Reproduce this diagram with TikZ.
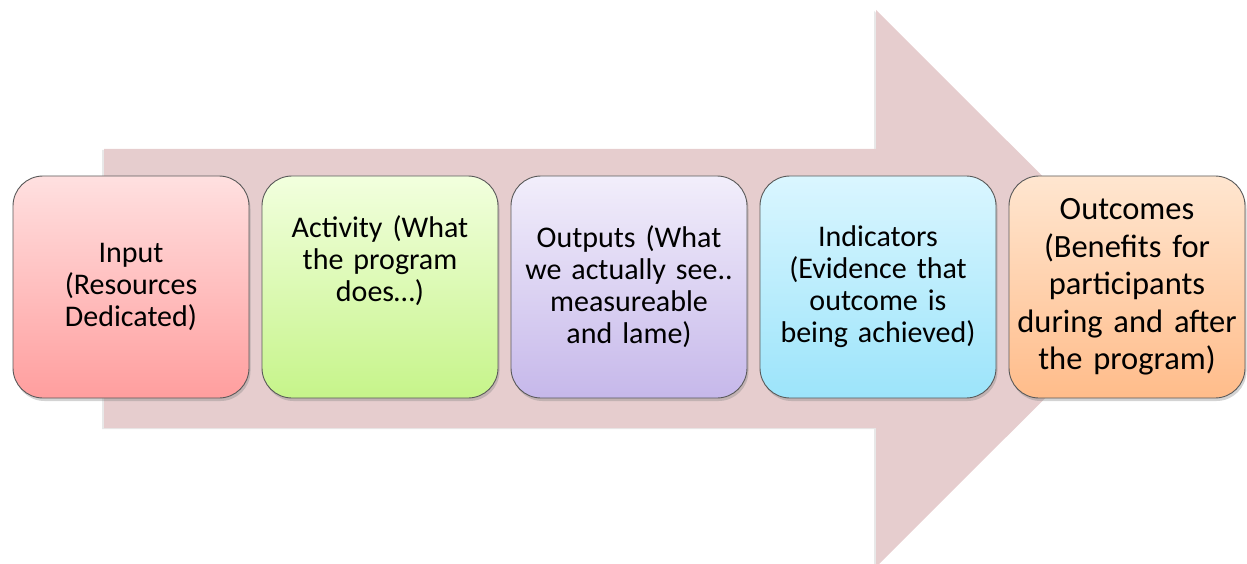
\documentclass[tikz,border=0pt]{standalone}
\usepackage{fontspec}
\setmainfont{Carlito}
\usetikzlibrary{shadows}
\definecolor{arrowc}{RGB}{230,205,206}
\definecolor{redT}{RGB}{255,224,224}\definecolor{redB}{RGB}{255,158,158}
\definecolor{grnT}{RGB}{242,255,222}\definecolor{grnB}{RGB}{198,244,138}
\definecolor{purT}{RGB}{242,238,251}\definecolor{purB}{RGB}{198,184,234}
\definecolor{cyaT}{RGB}{218,246,255}\definecolor{cyaB}{RGB}{156,228,250}
\definecolor{orgT}{RGB}{255,230,208}\definecolor{orgB}{RGB}{255,188,138}
\tikzset{
  box/.style={draw=black!65, line width=0.9pt, rounded corners=30pt,
    minimum width=236pt, minimum height=222pt, inner sep=0pt,
    drop shadow={shadow xshift=1.5pt, shadow yshift=-3pt, opacity=0.35}},
  txt/.style={text width=230pt, align=center, inner sep=0pt,
    font=\fontsize{30}{32}\selectfont, text=black},
  bigtxt/.style={txt, font=\fontsize{32.5}{37.5}\selectfont},
  arrowshape/.style={fill=arrowc, draw=none,
    drop shadow={shadow xshift=-2pt, shadow yshift=-1pt, opacity=0.18}}
}
\begin{document}
\begin{tikzpicture}[x=1pt,y=-1pt]
\useasboundingbox (0,0) rectangle (1247,564);
% big arrow
\coordinate (a1) at (104,149);
\coordinate (a2) at (876,149);
\coordinate (a3) at (876,10);
\coordinate (a4) at (1155,288.5);
\coordinate (a5) at (876,567);
\coordinate (a6) at (876,428);
\coordinate (a7) at (104,428);
\fill[arrowshape] (a1) -- (a2) -- (a3) -- (a4) -- (a5) -- (a6) -- (a7) -- cycle;
% boxes
\node[box, top color=redT, bottom color=redB] (b1) at (131,287) {};
\node[box, top color=grnT, bottom color=grnB] (b2) at (380,287) {};
\node[box, top color=purT, bottom color=purB] (b3) at (629,287) {};
\node[box, top color=cyaT, bottom color=cyaB] (b4) at (878,287) {};
\node[box, top color=orgT, bottom color=orgB] (b5) at (1127,287) {};
% texts
\node[txt] (t1) at (b1.center) {Input\\(Resources\\Dedicated)};
\node[txt] (t2) at ([yshift=26pt]b2.center) {Activity (What\\the program\\does…)};
\node[txt] (t3) at (b3.center) {Outputs (What\\we actually see..\\measureable\\and lame)};
\node[txt] (t4) at (b4.center) {Indicators\\(Evidence that\\outcome is\\being achieved)};
\node[bigtxt] (t5) at (b5.center) {Outcomes\\(Benefits for\\participants\\during and after\\the program)};
\end{tikzpicture}
\end{document}
